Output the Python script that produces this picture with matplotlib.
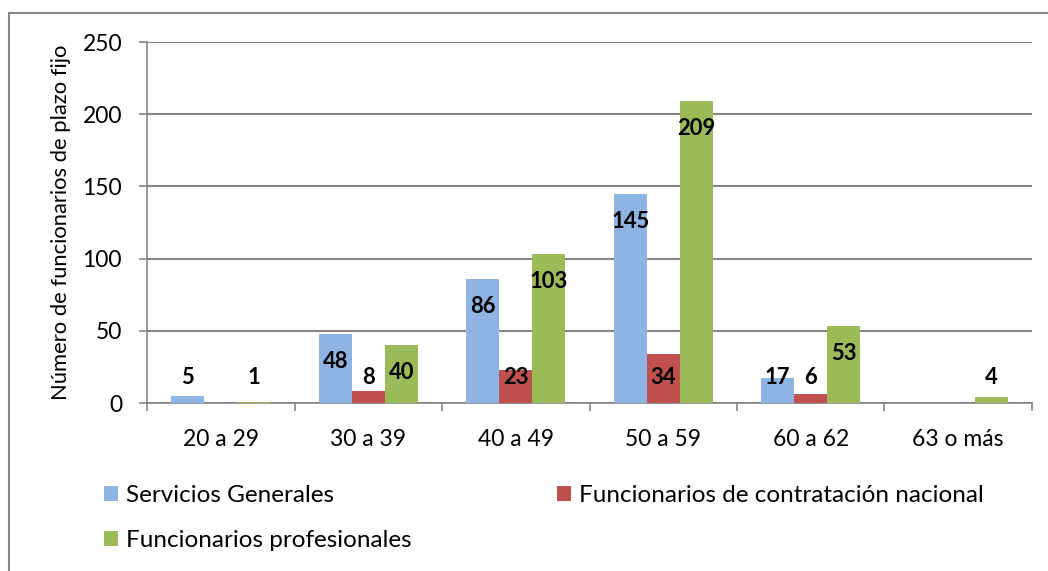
import numpy as np
import matplotlib.pyplot as plt
from matplotlib.patches import Rectangle

plt.rcParams['font.family'] = ['Lato', 'DejaVu Sans']

categories = ['20 a 29', '30 a 39', '40 a 49', '50 a 59', '60 a 62', '63 o más']
series_names = ['Servicios Generales', 'Funcionarios de contratación nacional',
                'Funcionarios profesionales']
servicios = [5, 48, 86, 145, 17, np.nan]
nacional = [np.nan, 8, 23, 34, 6, np.nan]
profesionales = [1, 40, 103, 209, 53, 4]
colors = ['#8EB4E3', '#C0504D', '#9BBB59']

fig = plt.figure(figsize=(10.48, 5.71), dpi=100)
ax = fig.add_axes([0.1403, 0.2942, 0.8444, 0.6322])

x = np.arange(len(categories))
w = 0.224
bars = []
for i, (vals, name, c) in enumerate(zip([servicios, nacional, profesionales], series_names, colors)):
    vals = np.array(vals, dtype=float)
    b = ax.bar(x + (i - 1) * w, np.nan_to_num(vals), w, color=c, label=name, zorder=3)
    bars.append(b)
    for xi, v in zip(x, vals):
        if np.isnan(v):
            continue
        ly = max(v - 19, 18)
        ax.text(xi + (i - 1) * w, ly, f'{int(v)}', ha='center', va='center',
                fontsize=15.8, fontweight='bold', zorder=4)

ax.set_xlim(-0.5, len(categories) - 0.5)
ax.set_ylim(0, 250)
ax.set_yticks(np.arange(0, 251, 50))
ax.set_xticks(x)
ax.set_xticklabels(categories)
ax.set_xticks(np.arange(-0.5, len(categories)), minor=True)
ax.tick_params(axis='x', which='major', length=0, labelsize=16.5, pad=19)
ax.tick_params(axis='x', which='minor', length=6, color='#868686', width=1.2)
ax.tick_params(axis='y', length=6, color='#868686', width=1.2, labelsize=16.5, pad=12)
ax.yaxis.grid(True, color='#868686', linewidth=1.5, zorder=0)
for s in ['top', 'right']:
    ax.spines[s].set_visible(False)
for s in ['left', 'bottom']:
    ax.spines[s].set_color('#868686')
    ax.spines[s].set_linewidth(1.2)
ax.set_ylabel('Número de funcionarios de plazo fijo', fontsize=15.8, labelpad=8)

handles = [bars[0], bars[2], bars[1]]
labels = [series_names[0], series_names[2], series_names[1]]
fig.legend(handles, labels, loc='upper left', bbox_to_anchor=(0.088, 0.172),
           ncol=2, frameon=False, fontsize=17.5, handlelength=0.58, handleheight=0.58,
           handletextpad=0.3, columnspacing=6.0, labelspacing=1.0, borderpad=0)

fig.patches.append(Rectangle((9 / 1048, -0.1), 1.2, 1 - 13 / 571 + 0.1,
                             transform=fig.transFigure, fill=False,
                             edgecolor='#868686', linewidth=1.5))

fig.savefig('out.png', dpi=100)
